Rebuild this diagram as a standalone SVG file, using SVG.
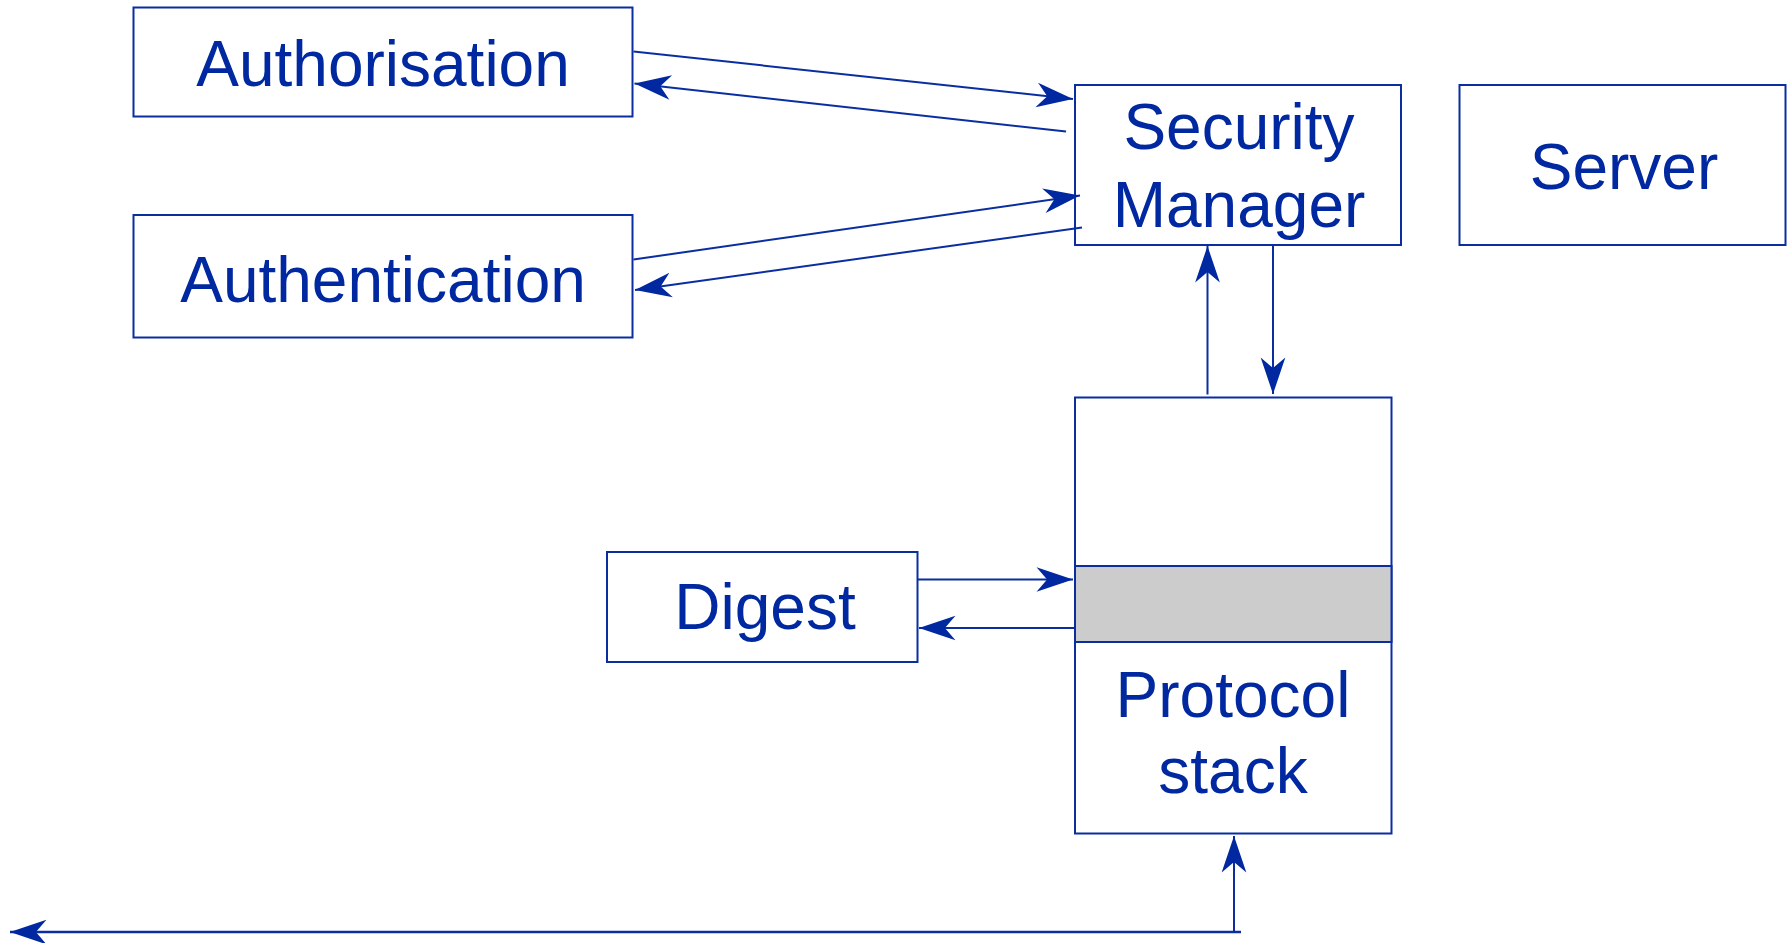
<svg xmlns="http://www.w3.org/2000/svg" width="1791" height="943" viewBox="0 0 1791 943">
<style>
.box{fill:#ffffff;stroke:#0a2ea0;stroke-width:2}
.band{fill:#cccccc;stroke:#0a2ea0;stroke-width:2}
.lbl{font-family:"Liberation Sans",Arial,sans-serif;font-size:64px;fill:#0028a0;text-anchor:middle}
.con{fill:none;stroke:#0a2ea0;stroke-width:2;marker-end:url(#ah)}
</style>
<defs>
<marker id="ah" markerUnits="userSpaceOnUse" markerWidth="40" markerHeight="30" viewBox="-32 -12 34 24" refX="0" refY="0" orient="auto" overflow="visible">
<path d="M0,0 L-31,-10.5 L-22,0 L-31,10.5 Z" fill="#0028a0"/>
</marker>
</defs>
<rect width="1791" height="943" fill="#ffffff"/>
<g id="authorisation">
<rect class="box" x="133.5" y="7.5" width="499" height="109"/>
<text class="lbl" x="383" y="86">Authorisation</text>
</g>
<g id="authentication">
<rect class="box" x="133.5" y="215" width="499" height="122.5"/>
<text class="lbl" x="383" y="301.5">Authentication</text>
</g>
<g id="security-manager">
<rect class="box" x="1075" y="85" width="326" height="160"/>
<text class="lbl" x="1239" y="149">Security</text>
<text class="lbl" x="1239" y="226.5">Manager</text>
</g>
<g id="server">
<rect class="box" x="1459.5" y="85" width="326" height="160"/>
<text class="lbl" x="1624" y="189">Server</text>
</g>
<g id="digest">
<rect class="box" x="607" y="552" width="310.5" height="110"/>
<text class="lbl" x="765" y="629">Digest</text>
</g>
<g id="protocol-stack">
<rect class="box" x="1075" y="397.5" width="316.5" height="436"/>
<rect class="band" x="1075" y="566" width="316.5" height="76"/>
<text class="lbl" x="1233" y="717">Protocol</text>
<text class="lbl" x="1233" y="793">stack</text>
</g>
<g id="connectors">
<line class="con" x1="633.5" y1="51.5" x2="1073" y2="99"/>
<line class="con" x1="1066" y1="131.5" x2="634.5" y2="83.5"/>
<line class="con" x1="633.5" y1="259.5" x2="1080" y2="195.5"/>
<line class="con" x1="1082" y1="227.5" x2="635" y2="290"/>
<line class="con" x1="1207.5" y1="394.5" x2="1207.5" y2="246"/>
<line class="con" x1="1273" y1="245" x2="1273" y2="394"/>
<line class="con" x1="917.5" y1="579.5" x2="1073" y2="579.5"/>
<line class="con" x1="1075" y1="628" x2="919" y2="628"/>
<line class="con" x1="1234" y1="931.5" x2="1234" y2="836"/>
<line class="con" style="stroke-width:2.6" x1="1241" y1="932" x2="10" y2="932"/>
</g>
</svg>
